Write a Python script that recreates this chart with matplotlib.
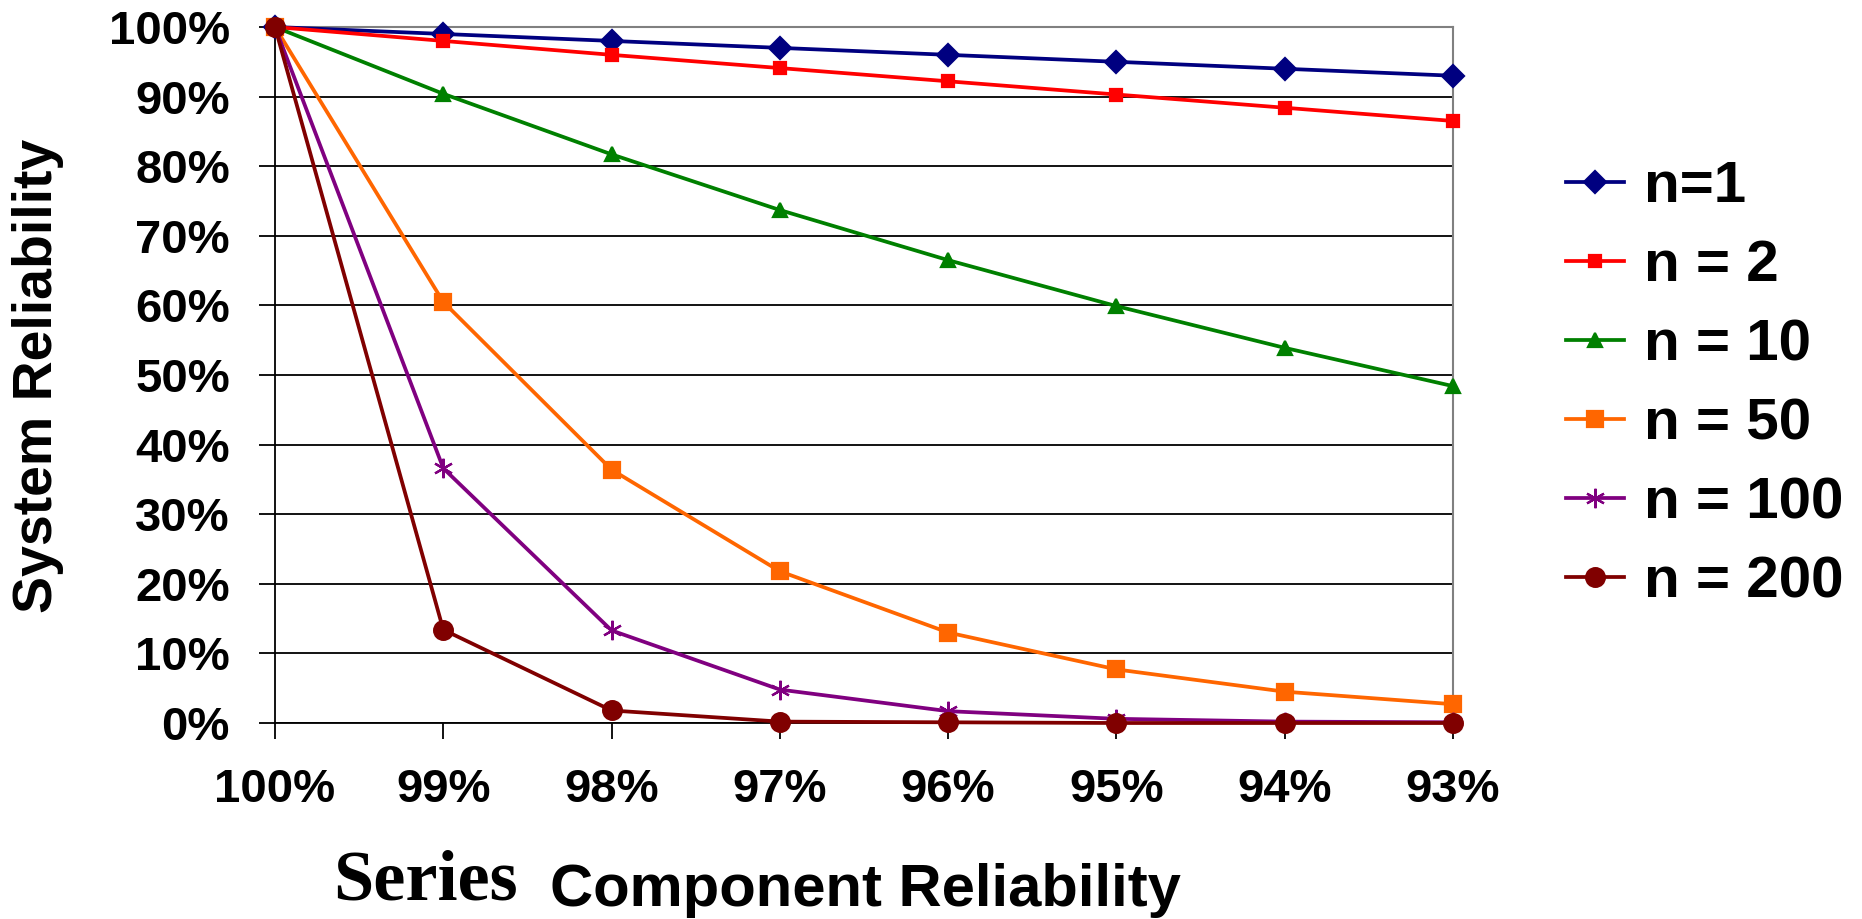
import numpy as np
import matplotlib.pyplot as plt
from matplotlib.ticker import PercentFormatter

# component reliability categories (x axis)
component = ['100%', '99%', '98%', '97%', '96%', '95%', '94%', '93%']

# system reliability, one list per n
n1 = [1.000, 0.990, 0.980, 0.970, 0.960, 0.950, 0.940, 0.930]
n2 = [1.000, 0.980, 0.960, 0.941, 0.922, 0.903, 0.884, 0.865]
n10 = [1.000, 0.904, 0.817, 0.737, 0.665, 0.599, 0.539, 0.484]
n50 = [1.000, 0.605, 0.364, 0.218, 0.130, 0.077, 0.045, 0.027]
n100 = [1.000, 0.366, 0.133, 0.048, 0.017, 0.006, 0.002, 0.001]
n200 = [1.000, 0.134, 0.018, 0.002, 0.001, 0.000, 0.000, 0.000]

series = [
    ('n=1', n1, '#000080', 'D', 11.5),
    ('n = 2', n2, '#FF0000', 's', 8.5),
    ('n = 10', n10, '#008000', '^', 9.5),
    ('n = 50', n50, '#FF6600', 's', 11.5),
    ('n = 100', n100, '#800080', (6, 2, 0), 14),
    ('n = 200', n200, '#800000', 'o', 13.5),
]

sans = 'Liberation Sans'

fig = plt.figure(figsize=(18.62, 9.19), dpi=100)
ax = fig.add_axes([275 / 1862, 1 - 723 / 919, (1453 - 275) / 1862, (723 - 27) / 919])

x = np.arange(len(component))
for label, vals, col, mk, ms in series:
    ax.plot(x, vals, color=col, lw=2.7, marker=mk, markersize=ms,
            markeredgecolor=col, markerfacecolor=col, markeredgewidth=1.6,
            label=label, clip_on=False, zorder=3)

ax.set_xlim(0, len(component) - 1)
ax.set_ylim(0, 1)
ax.set_xticks(x)
ax.set_xticklabels(component)
ax.set_yticks(np.arange(0, 1.01, 0.1))
ax.yaxis.set_major_formatter(PercentFormatter(1.0, decimals=0))
ax.yaxis.grid(True, color='black', lw=1.3)
ax.set_axisbelow(True)

for lab in ax.get_xticklabels() + ax.get_yticklabels():
    lab.set_fontfamily(sans)
    lab.set_fontweight('bold')
    lab.set_fontsize(34)
ax.tick_params(axis='both', direction='out', length=11.5, width=1.3, color='black', pad=21)

ax.spines['left'].set_color('black')
ax.spines['bottom'].set_color('black')
ax.spines['left'].set_linewidth(1.3)
ax.spines['bottom'].set_linewidth(1.3)
ax.spines['top'].set_color('#808080')
ax.spines['right'].set_color('#808080')
ax.spines['top'].set_linewidth(1.5)
ax.spines['right'].set_linewidth(1.5)

# axis titles
fig.text(38 / 1862, 1 - 376 / 919, 'System Reliability', rotation=90, ha='center', va='center',
         fontsize=40, fontweight='bold', family=sans)
fig.text(333 / 1862, 1 - 900 / 919, 'Series', ha='left', va='baseline',
         fontsize=52, fontweight='bold', family='Liberation Serif')
fig.text(550 / 1862, 1 - 906 / 919, 'Component Reliability', ha='left', va='baseline',
         fontsize=43, fontweight='bold', family=sans)

leg = fig.legend(loc='upper left', bbox_to_anchor=(1566 / 1862, 1 - 160 / 919), frameon=False,
                 prop={'family': sans, 'weight': 'bold', 'size': 42},
                 handlelength=1.0, handletextpad=0.33, labelspacing=0.43,
                 borderpad=0, borderaxespad=0)

fig.savefig('out.png', dpi=100)
